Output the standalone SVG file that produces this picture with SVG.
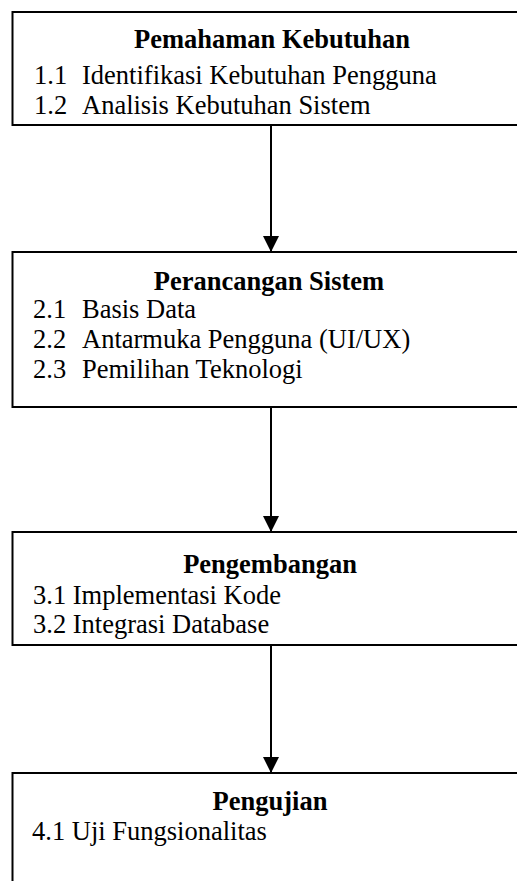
<svg xmlns="http://www.w3.org/2000/svg" width="517" height="881" viewBox="0 0 517 881">
<style>
.box{fill:#fff;stroke:#000;stroke-width:2}
.t{font-family:"Liberation Serif","Times New Roman",serif;font-size:26.5px;fill:#000}
.h{font-weight:bold;text-anchor:middle}
.c{stroke:#000;stroke-width:2;fill:none}
</style>
<defs>
<marker id="ah" markerWidth="8" markerHeight="8" refX="8" refY="4" orient="auto" markerUnits="strokeWidth">
<path d="M0,0 L8,4 L0,8 Z" fill="#000"/>
</marker>
</defs>
<rect width="517" height="881" fill="#fff"/>
<g id="connectors">
<line class="c" x1="271" y1="125" x2="271" y2="252" marker-end="url(#ah)"/>
<line class="c" x1="271" y1="407" x2="271" y2="532" marker-end="url(#ah)"/>
<line class="c" x1="271" y1="645" x2="271" y2="773" marker-end="url(#ah)"/>
</g>
<g id="node1">
<rect class="box" x="12.5" y="12" width="530" height="113"/>
<text class="t h" x="272" y="48">Pemahaman Kebutuhan</text>
<text class="t" x="34" y="84">1.1<tspan x="82">Identifikasi Kebutuhan Pengguna</tspan></text>
<text class="t" x="34" y="114">1.2<tspan x="82">Analisis Kebutuhan Sistem</tspan></text>
</g>
<g id="node2">
<rect class="box" x="12.5" y="252" width="530" height="155"/>
<text class="t h" x="269" y="290">Perancangan Sistem</text>
<text class="t" x="33" y="318">2.1<tspan x="82">Basis Data</tspan></text>
<text class="t" x="33" y="348">2.2<tspan x="82">Antarmuka Pengguna (UI/UX)</tspan></text>
<text class="t" x="33" y="378">2.3<tspan x="82">Pemilihan Teknologi</tspan></text>
</g>
<g id="node3">
<rect class="box" x="12.5" y="532" width="530" height="113"/>
<text class="t h" x="270" y="573">Pengembangan</text>
<text class="t" x="33" y="604">3.1 Implementasi Kode</text>
<text class="t" x="33" y="633">3.2 Integrasi Database</text>
</g>
<g id="node4">
<rect class="box" x="12.5" y="773" width="530" height="140"/>
<text class="t h" x="270" y="810">Pengujian</text>
<text class="t" x="32" y="840">4.1 Uji Fungsionalitas</text>
</g>
</svg>
